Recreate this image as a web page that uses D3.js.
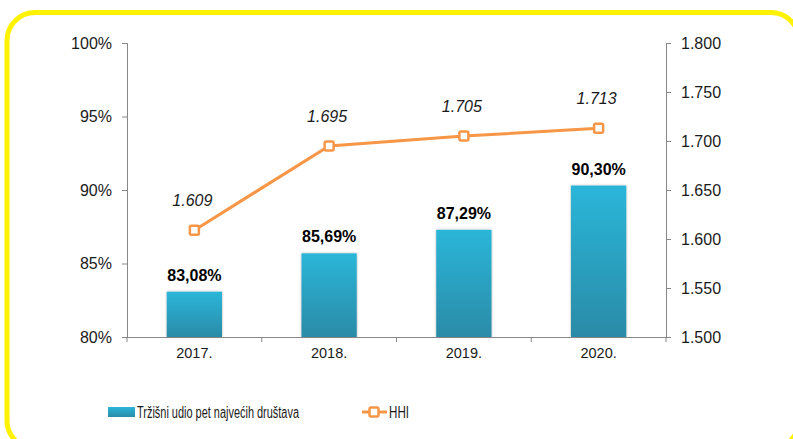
<!DOCTYPE html>
<html>
<head>
<meta charset="utf-8">
<script src="https://cdn.jsdelivr.net/npm/d3@7"></script>
<style>
  body { margin: 0; background: #fff; }
  svg { display: block; font-family: "Liberation Sans", Arial, sans-serif; }
</style>
</head>
<body>
<div id="chart"></div>
<script>
var years = ['2017.', '2018.', '2019.', '2020.'];
var shareValues = [83.08, 85.69, 87.29, 90.30];
var shareLabels = ['83,08%', '85,69%', '87,29%', '90,30%'];
var hhiValues = [1609, 1695, 1705, 1713];
var hhiLabels = ['1.609', '1.695', '1.705', '1.713'];
var leftTicks = [80, 85, 90, 95, 100];
var rightTicks = [1500, 1550, 1600, 1650, 1700, 1750, 1800];
var seriesNames = ['Tržišni udio pet najvećih društava', 'HHI'];

var width = 793, height = 439;
var margin = { top: 43, right: 127, bottom: 102, left: 127 };
var w = width - margin.left - margin.right,
    h = height - margin.top - margin.bottom;

var axisColor = '#878787';
var orange = '#F79646';

var svg = d3.select('#chart').append('svg')
    .attr('width', width)
    .attr('height', height);

var defs = svg.append('defs');
var grad = defs.append('linearGradient')
    .attr('id', 'barGrad')
    .attr('x1', 0).attr('y1', 0).attr('x2', 0).attr('y2', 1);
grad.append('stop').attr('offset', '0%').attr('stop-color', '#2BB6D9');
grad.append('stop').attr('offset', '100%').attr('stop-color', '#2B8BA7');

var shadow = defs.append('filter').attr('id', 'shadow')
    .attr('x', '-20%').attr('y', '-20%').attr('width', '140%').attr('height', '140%');
shadow.append('feDropShadow')
    .attr('dx', 0).attr('dy', 0).attr('stdDeviation', 1.2)
    .attr('flood-color', '#000').attr('flood-opacity', 0.35);

// yellow frame
svg.append('rect')
    .attr('x', 7).attr('y', 12.5)
    .attr('width', 792).attr('height', 436)
    .attr('rx', 28).attr('ry', 28)
    .attr('fill', 'none')
    .attr('stroke', '#FFF200')
    .attr('stroke-width', 5);

var g = svg.append('g')
    .attr('transform', 'translate(' + margin.left + ',' + margin.top + ')');

var x = d3.scaleBand().domain(years).range([0, w]).paddingInner(0).paddingOuter(0);
var yL = d3.scaleLinear().domain([80, 100]).range([h, 0]);
var yR = d3.scaleLinear().domain([1500, 1800]).range([h, 0]);

var barW = x.bandwidth() * 0.41;

// bars
g.selectAll('.bar')
    .data(shareValues)
    .enter().append('rect')
    .attr('class', 'bar')
    .attr('x', function (d, i) { return x(years[i]) + x.bandwidth() / 2 - barW / 2; })
    .attr('y', function (d) { return yL(d); })
    .attr('width', barW)
    .attr('height', function (d) { return h - yL(d); })
    .attr('fill', 'url(#barGrad)')
    .attr('filter', 'url(#shadow)');

g.selectAll('.barLabel')
    .data(shareValues)
    .enter().append('text')
    .attr('class', 'barLabel')
    .attr('x', function (d, i) { return x(years[i]) + x.bandwidth() / 2; })
    .attr('y', function (d) { return yL(d) - 11; })
    .attr('text-anchor', 'middle')
    .attr('font-size', '16px')
    .attr('font-weight', 'bold')
    .attr('fill', '#000')
    .text(function (d, i) { return shareLabels[i]; });

// axes
var leftAxis = g.append('g')
    .call(d3.axisLeft(yL).tickValues(leftTicks).tickSize(5).tickPadding(10)
        .tickFormat(function (d) { return d + '%'; }));

var rightAxis = g.append('g')
    .attr('transform', 'translate(' + w + ',0)')
    .call(d3.axisRight(yR).tickValues(rightTicks).tickSize(5).tickPadding(10)
        .tickFormat(function (d) { return d3.format('.3f')(d / 1000); }));

var bottomAxis = g.append('g')
    .attr('transform', 'translate(0,' + h + ')')
    .call(d3.axisBottom(x).tickSize(0).tickPadding(11));

g.append('g')
    .attr('transform', 'translate(0,' + h + ')')
    .selectAll('line')
    .data(d3.range(years.length + 1))
    .enter().append('line')
    .attr('x1', function (d) { return d * x.step(); })
    .attr('x2', function (d) { return d * x.step(); })
    .attr('y1', 0).attr('y2', 5)
    .attr('stroke', axisColor);

[leftAxis, rightAxis, bottomAxis].forEach(function (a) {
    a.selectAll('path, line').attr('stroke', axisColor);
    a.selectAll('text').attr('fill', '#1a1a1a').attr('font-family', '"Liberation Sans", Arial, sans-serif');
});
leftAxis.selectAll('text').attr('font-size', '16px');
rightAxis.selectAll('text').attr('font-size', '16px');
bottomAxis.selectAll('text').attr('font-size', '14.5px');
bottomAxis.select('.domain').attr('d', 'M0,0.5H' + w);

// HHI line
var line = d3.line()
    .x(function (d, i) { return x(years[i]) + x.bandwidth() / 2; })
    .y(function (d) { return yR(d); });

g.append('path')
    .datum(hhiValues)
    .attr('d', line)
    .attr('fill', 'none')
    .attr('stroke', orange)
    .attr('stroke-width', 3);

g.selectAll('.marker')
    .data(hhiValues)
    .enter().append('rect')
    .attr('class', 'marker')
    .attr('x', function (d, i) { return x(years[i]) + x.bandwidth() / 2 - 4.5; })
    .attr('y', function (d) { return yR(d) - 4.5; })
    .attr('width', 9).attr('height', 9)
    .attr('rx', 1.5)
    .attr('fill', '#fff')
    .attr('stroke', orange)
    .attr('stroke-width', 2.5);

g.selectAll('.hhiLabel')
    .data(hhiValues)
    .enter().append('text')
    .attr('class', 'hhiLabel')
    .attr('x', function (d, i) { return x(years[i]) + x.bandwidth() / 2 - 2; })
    .attr('y', function (d) { return yR(d) - 24; })
    .attr('text-anchor', 'middle')
    .attr('font-size', '16px')
    .attr('font-style', 'italic')
    .attr('fill', '#1a1a1a')
    .text(function (d, i) { return hhiLabels[i]; });

// legend
var legend = svg.append('g');
legend.append('rect')
    .attr('x', 108).attr('y', 407)
    .attr('width', 27).attr('height', 10)
    .attr('fill', 'url(#barGrad)');
legend.append('text')
    .attr('x', 137).attr('y', 418)
    .attr('font-size', '16px')
    .attr('fill', '#1a1a1a')
    .attr('textLength', 162)
    .attr('lengthAdjust', 'spacingAndGlyphs')
    .text(seriesNames[0]);

legend.append('line')
    .attr('x1', 362).attr('x2', 387)
    .attr('y1', 412).attr('y2', 412)
    .attr('stroke', orange).attr('stroke-width', 3);
legend.append('rect')
    .attr('x', 369.5).attr('y', 407.5)
    .attr('width', 9).attr('height', 9)
    .attr('rx', 1.5)
    .attr('fill', '#fff')
    .attr('stroke', orange)
    .attr('stroke-width', 2.5);
legend.append('text')
    .attr('x', 389).attr('y', 418)
    .attr('font-size', '16px')
    .attr('fill', '#1a1a1a')
    .attr('textLength', 20)
    .attr('lengthAdjust', 'spacingAndGlyphs')
    .text(seriesNames[1]);
</script>
</body>
</html>
